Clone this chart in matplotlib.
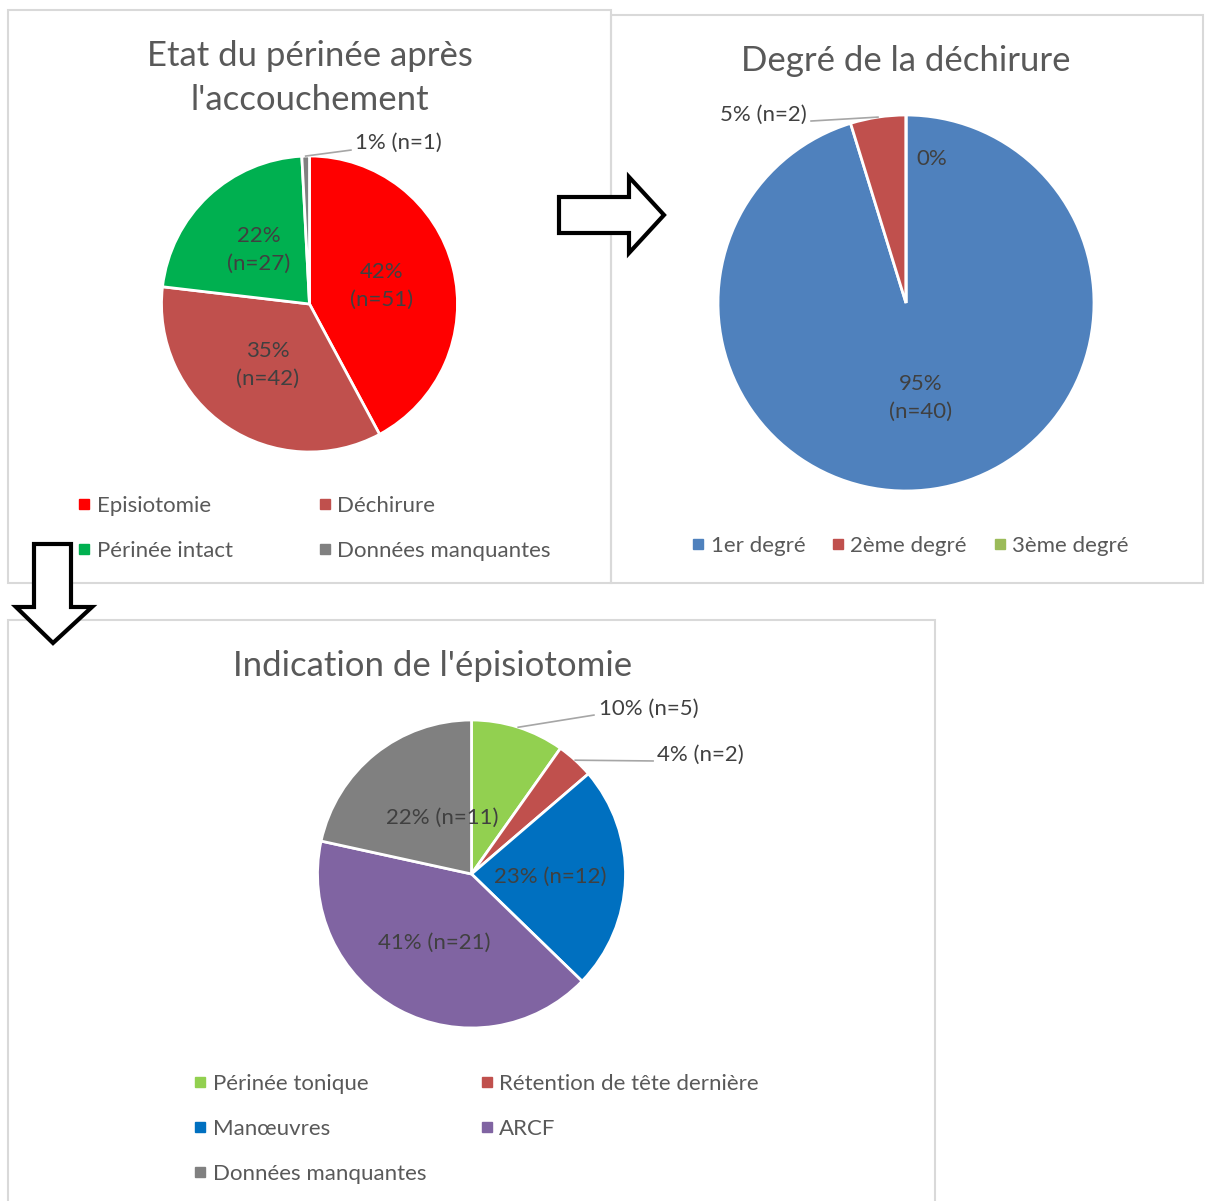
import matplotlib
matplotlib.use("Agg")
import matplotlib.pyplot as plt
import numpy as np
from matplotlib.lines import Line2D
from matplotlib.patches import Polygon, Rectangle

W, H = 1208, 1201

# --- data ---
ETAT_LABELS = ["Episiotomie", "Déchirure", "Périnée intact", "Données manquantes"]
ETAT_COUNTS = [51, 42, 27, 1]
ETAT_PCT = [42, 35, 22, 1]
ETAT_COLORS = ["#FF0000", "#C0504D", "#00B050", "#808080"]

DEGRE_LABELS = ["1er degré", "2ème degré", "3ème degré"]
DEGRE_COUNTS = [40, 2, 0]
DEGRE_PCT = [95, 5, 0]
DEGRE_COLORS = ["#4F81BD", "#C0504D", "#9BBB59"]

INDIC_LABELS = ["Périnée tonique", "Rétention de tête dernière", "Manœuvres", "ARCF", "Données manquantes"]
INDIC_COUNTS = [5, 2, 12, 21, 11]
INDIC_PCT = [10, 4, 23, 41, 22]
INDIC_COLORS = ["#92D050", "#C0504D", "#0070C0", "#8064A2", "#808080"]

TITLE_COLOR = "#595959"
LABEL_COLOR = "#404040"
LEADER_COLOR = "#A6A6A6"
BORDER_COLOR = "#D9D9D9"

plt.rcParams["font.family"] = ["Lato", "DejaVu Sans"]

TITLE_SIZE = 25
LABEL_SIZE = 16
LEGEND_SIZE = 16


def fig_xy(x, y):
    return x / W, 1 - y / H


def panel_border(fig, x0, y0, x1, y1):
    fig.add_artist(Rectangle(fig_xy(x0, y1), (x1 - x0) / W, (y1 - y0) / H, transform=fig.transFigure,
                             fill=False, edgecolor=BORDER_COLOR, linewidth=1.5, zorder=1))


def block_arrow(fig, points):
    pts = [fig_xy(x, y) for x, y in points]
    fig.add_artist(Polygon(pts, closed=True, transform=fig.transFigure, facecolor="white",
                           edgecolor="black", linewidth=3.0, joinstyle="miter", zorder=5))


def draw_pie(fig, cx, cy, r, counts, colors):
    ax = fig.add_axes([(cx - r) / W, 1 - (cy + r) / H, 2 * r / W, 2 * r / H])
    wedges, _ = ax.pie(counts, colors=colors, startangle=90, counterclock=False, radius=1,
                       wedgeprops=dict(edgecolor="white", linewidth=2))
    ax.set_xlim(-1, 1)
    ax.set_ylim(-1, 1)
    ax.axis("off")
    return ax, wedges


def mid_angle(wedge):
    return np.deg2rad((wedge.theta1 + wedge.theta2) / 2)


def inside_label(ax, wedge, text, dist=0.5, shift=0.0):
    ang = mid_angle(wedge) + np.deg2rad(shift)
    ax.text(dist * np.cos(ang), dist * np.sin(ang), text, ha="center", va="center",
            fontsize=LABEL_SIZE, color=LABEL_COLOR, linespacing=1.5)


def outside_label(ax, wedge, text, line_end, text_pos, ha):
    ang = mid_angle(wedge)
    ax.plot([np.cos(ang), line_end[0]], [np.sin(ang), line_end[1]], color=LEADER_COLOR,
            linewidth=1.2, clip_on=False)
    ax.text(text_pos[0], text_pos[1], text, ha=ha, va="center", fontsize=LABEL_SIZE,
            color=LABEL_COLOR, clip_on=False)


def row_major(items, ncol):
    # excel fills legends row by row, matplotlib column by column
    return [items[i] for c in range(ncol) for i in range(c, len(items), ncol)]


def add_legend(fig, labels, colors, ncol, x, y, colspacing, rowspacing=1.12):
    handles = [Line2D([], [], marker="s", linestyle="", markersize=6.5, color=c) for c in colors]
    order = row_major(list(range(len(labels))), ncol)
    leg = fig.legend([handles[i] for i in order], [labels[i] for i in order], ncol=ncol,
                     loc="upper left", bbox_to_anchor=fig_xy(x, y), frameon=False,
                     fontsize=LEGEND_SIZE, handlelength=0.4, handletextpad=0.35,
                     columnspacing=colspacing, labelspacing=rowspacing, borderpad=0,
                     borderaxespad=0)
    for t in leg.get_texts():
        t.set_color(TITLE_COLOR)
    return leg


fig = plt.figure(figsize=(W / 100, H / 100), dpi=100)

panel_border(fig, 8, 10, 611, 583)
panel_border(fig, 611, 15, 1203, 583)
panel_border(fig, 8, 620, 935, 1215)

# panel 1: etat du perinee
fig.text(*fig_xy(310, 78), "Etat du périnée après\nl'accouchement", ha="center", va="center",
         fontsize=TITLE_SIZE, color=TITLE_COLOR, linespacing=1.46)
ax1, w1 = draw_pie(fig, 309.5, 304, 148, ETAT_COUNTS, ETAT_COLORS)
for w, p, n in zip(w1[:3], ETAT_PCT[:3], ETAT_COUNTS[:3]):
    inside_label(ax1, w, f"{p}%\n(n={n})", dist=0.5)
outside_label(ax1, w1[3], f"{ETAT_PCT[3]}% (n={ETAT_COUNTS[3]})", (0.28, 1.04), (0.31, 1.088), "left")
add_legend(fig, ETAT_LABELS, ETAT_COLORS, 2, 80, 496, colspacing=3.95)

# panel 2: degre de la dechirure
fig.text(*fig_xy(906, 61), "Degré de la déchirure", ha="center", va="center",
         fontsize=TITLE_SIZE, color=TITLE_COLOR)
ax2, w2 = draw_pie(fig, 906, 303, 188, DEGRE_COUNTS, DEGRE_COLORS)
inside_label(ax2, w2[0], f"{DEGRE_PCT[0]}%\n(n={DEGRE_COUNTS[0]})", dist=0.51)
outside_label(ax2, w2[1], f"{DEGRE_PCT[1]}% (n={DEGRE_COUNTS[1]})", (-0.505, 0.968), (-0.53, 1.0), "right")
ax2.text(0.138, 0.766, f"{DEGRE_PCT[2]}%", ha="center", va="center", fontsize=LABEL_SIZE, color=LABEL_COLOR)
add_legend(fig, DEGRE_LABELS, DEGRE_COLORS, 3, 694, 536, colspacing=1.28)

# panel 3: indication de l'episiotomie
fig.text(*fig_xy(433, 666), "Indication de l'épisiotomie", ha="center", va="center",
         fontsize=TITLE_SIZE, color=TITLE_COLOR)
ax3, w3 = draw_pie(fig, 471.5, 874, 154, INDIC_COUNTS, INDIC_COLORS)
outside_label(ax3, w3[0], f"{INDIC_PCT[0]}% (n={INDIC_COUNTS[0]})", (0.795, 1.032), (0.828, 1.071), "left")
outside_label(ax3, w3[1], f"{INDIC_PCT[1]}% (n={INDIC_COUNTS[1]})", (1.179, 0.734), (1.205, 0.773), "left")
inside_label(ax3, w3[2], f"{INDIC_PCT[2]}% (n={INDIC_COUNTS[2]})", dist=0.51)
inside_label(ax3, w3[3], f"{INDIC_PCT[3]}% (n={INDIC_COUNTS[3]})", dist=0.51)
inside_label(ax3, w3[4], f"{INDIC_PCT[4]}% (n={INDIC_COUNTS[4]})", dist=0.41, shift=-11)
add_legend(fig, INDIC_LABELS, INDIC_COLORS, 2, 196, 1074, colspacing=2.53)

# block arrows between panels
block_arrow(fig, [(559, 197), (629, 197), (629, 177), (664, 215), (629, 253), (629, 233), (559, 233)])
block_arrow(fig, [(34, 544), (71, 544), (71, 607), (92, 607), (53, 643), (16, 607), (34, 607)])

fig.savefig("out.png", dpi=100)
